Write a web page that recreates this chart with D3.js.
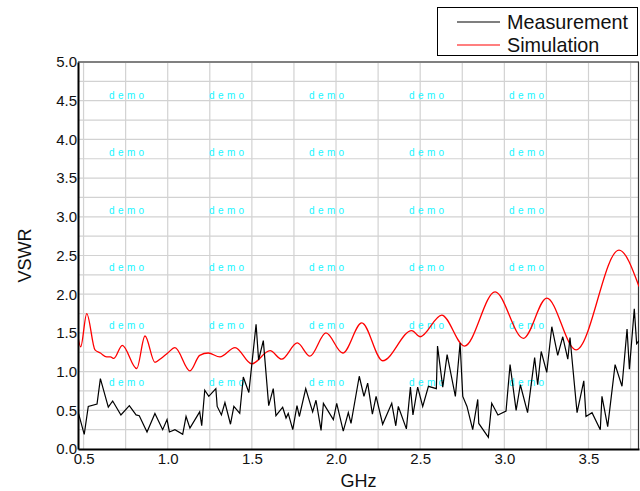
<!DOCTYPE html>
<html>
<head>
<meta charset="utf-8">
<script src="https://cdn.jsdelivr.net/npm/d3@7"></script>
<style>
body { margin: 0; background: #fff; }
text { font-family: "Liberation Sans", Arial, sans-serif; }
</style>
</head>
<body>
<script>
// measured VSWR (black)
const measFreq = [0.47, 0.504, 0.528, 0.58, 0.60, 0.647, 0.673, 0.722, 0.772, 0.812, 0.831, 0.877, 0.924, 0.97, 0.996,
    1.01, 1.043, 1.089, 1.109, 1.132, 1.19, 1.202, 1.22, 1.244, 1.286, 1.294, 1.319, 1.34, 1.373, 1.393, 1.428, 1.449, 1.482,
    1.525, 1.54, 1.568, 1.60, 1.627, 1.643, 1.683, 1.703, 1.716, 1.743, 1.768, 1.782, 1.82, 1.861, 1.881, 1.911, 1.925, 1.984,
    2.004, 2.043, 2.073, 2.089, 2.138, 2.166, 2.188, 2.216, 2.238, 2.277, 2.331, 2.355, 2.37, 2.418, 2.442, 2.457, 2.485,
    2.515, 2.549, 2.596, 2.603, 2.634, 2.66, 2.709, 2.737, 2.753, 2.778, 2.812, 2.842, 2.848, 2.905, 2.925, 2.962, 3.01,
    3.034, 3.07, 3.095, 3.138, 3.18, 3.198, 3.219, 3.252, 3.282, 3.317, 3.347, 3.377, 3.39, 3.432, 3.472, 3.485, 3.521,
    3.57, 3.58, 3.614, 3.658, 3.699, 3.729, 3.743, 3.772, 3.786, 3.80];
const measVswr = [0.46, 0.19, 0.55, 0.58, 0.91, 0.54, 0.62, 0.44, 0.56, 0.44, 0.43, 0.22, 0.46, 0.25, 0.38,
    0.22, 0.25, 0.19, 0.42, 0.27, 0.48, 0.30, 0.76, 0.68, 0.78, 0.55, 0.44, 0.60, 0.32, 0.55, 0.46, 0.93, 0.73,
    1.61, 1.15, 1.40, 0.56, 0.78, 0.43, 0.54, 0.40, 0.46, 0.25, 0.56, 0.42, 0.78, 0.48, 0.63, 0.24, 0.59, 0.38,
    0.59, 0.23, 0.47, 0.33, 0.94, 0.68, 0.85, 0.45, 0.68, 0.32, 0.59, 0.30, 0.55, 0.26, 0.80, 0.44, 0.80,
    0.55, 0.81, 0.78, 1.33, 0.80, 1.22, 0.68, 1.37, 0.68, 0.55, 0.25, 0.64, 0.33, 0.15, 0.59, 0.44, 0.49,
    1.09, 0.50, 0.83, 0.47, 1.18, 0.83, 1.26, 0.99, 1.58, 1.21, 1.45, 1.16, 1.44, 0.47, 0.88, 0.42, 0.47,
    0.25, 0.68, 0.29, 1.09, 0.81, 1.55, 1.03, 1.81, 1.36, 1.40];

// simulated VSWR (red)
const simFreq = [0.467, 0.483, 0.519, 0.568, 0.60, 0.637, 0.66, 0.68, 0.73, 0.816, 0.865, 0.924, 0.96, 1.0,
    1.043, 1.132, 1.19, 1.241, 1.31, 1.40, 1.499, 1.608, 1.677, 1.77, 1.845, 1.94, 2.04, 2.153, 2.277,
    2.45, 2.499, 2.628, 2.763, 2.945, 3.113, 3.252, 3.426, 3.681, 3.80];
const simVswr = [1.45, 1.32, 1.75, 1.28, 1.24, 1.19, 1.19, 1.17, 1.34, 1.04, 1.46, 1.12, 1.17, 1.24,
    1.31, 1.01, 1.21, 1.24, 1.19, 1.31, 1.10, 1.27, 1.16, 1.37, 1.20, 1.50, 1.24, 1.63, 1.14,
    1.53, 1.45, 1.73, 1.33, 2.03, 1.43, 1.95, 1.28, 2.57, 2.10];

const xTicks = [0.5, 1.0, 1.5, 2.0, 2.5, 3.0, 3.5];
const yTicks = [0.0, 0.5, 1.0, 1.5, 2.0, 2.5, 3.0, 3.5, 4.0, 4.5, 5.0];
const seriesNames = ["Measurement", "Simulation"];
const seriesColors = ["#000000", "#ff0000"];

const width = 640, height = 491;
const margin = {top: 62, right: 1, bottom: 42, left: 78};

const svg = d3.select("body").append("svg")
    .attr("width", width)
    .attr("height", height);

const x = d3.scaleLinear()
    .domain([0.467, 3.8])
    .range([margin.left, width - margin.right]);

const y = d3.scaleLinear()
    .domain([0, 5])
    .range([height - margin.bottom, margin.top]);

svg.append("clipPath").attr("id", "plot")
    .append("rect")
    .attr("x", margin.left).attr("y", margin.top)
    .attr("width", x.range()[1] - x.range()[0])
    .attr("height", y.range()[0] - y.range()[1]);

// grid every 0.25
let grid = svg.append("g").attr("stroke", "#d2d2d2").attr("stroke-width", 1.2);
grid.selectAll(".gx")
    .data(d3.range(0.5, 3.76, 0.25))
    .enter().append("line")
    .attr("x1", d => x(d)).attr("x2", d => x(d))
    .attr("y1", y(0)).attr("y2", y(5));
grid.selectAll(".gy")
    .data(d3.range(0.25, 5, 0.25))
    .enter().append("line")
    .attr("x1", x.range()[0]).attr("x2", x.range()[1])
    .attr("y1", d => y(d)).attr("y2", d => y(d));

// watermark
let marks = svg.append("g");
for (let i = 0; i < 5; i++) {
    for (let j = 0; j < 6; j++) {
        marks.append("text")
            .attr("x", 109 + i * 100)
            .attr("y", 95 + j * 57.5)
            .attr("dy", "0.35em")
            .attr("font-size", 10)
            .attr("letter-spacing", 0.3)
            .attr("fill", "#1af5ff")
            .text("d e m o");
    }
}

// frame
svg.append("line")
    .attr("x1", x.range()[0]).attr("x2", x.range()[1])
    .attr("y1", y(5)).attr("y2", y(5))
    .attr("stroke", "#808080").attr("stroke-width", 2);
svg.append("line")
    .attr("x1", x.range()[1] - 0.5).attr("x2", x.range()[1] - 0.5)
    .attr("y1", y(5)).attr("y2", y(0))
    .attr("stroke", "#333").attr("stroke-width", 1.2);

let line = d3.line()
    .x(d => x(d[0]))
    .y(d => y(d[1]));

svg.append("path")
    .datum(simFreq.map((f, i) => [f, simVswr[i]]))
    .attr("clip-path", "url(#plot)")
    .attr("fill", "none")
    .attr("stroke", seriesColors[1])
    .attr("stroke-width", 1.3)
    .attr("d", line.curve(d3.curveMonotoneX));

svg.append("path")
    .datum(measFreq.map((f, i) => [f, measVswr[i]]))
    .attr("clip-path", "url(#plot)")
    .attr("fill", "none")
    .attr("stroke", seriesColors[0])
    .attr("stroke-width", 1.2)
    .attr("stroke-linejoin", "miter")
    .attr("d", line.curve(d3.curveLinear));

// axes
let xAxis = svg.append("g")
    .attr("transform", "translate(0," + y(0) + ")")
    .call(d3.axisBottom(x).tickValues(xTicks).tickFormat(d3.format(".1f")).tickSize(0).tickPadding(4));
let yAxis = svg.append("g")
    .attr("transform", "translate(" + x.range()[0] + ",0)")
    .call(d3.axisLeft(y).tickValues(yTicks).tickFormat(d3.format(".1f")).tickSize(0).tickPadding(1));

[xAxis, yAxis].forEach(a => {
    a.selectAll("text")
        .attr("font-family", "'Liberation Sans', Arial, sans-serif")
        .attr("font-size", 15)
        .attr("fill", "#111");
    a.select(".domain").attr("stroke", "#000").attr("stroke-width", 2);
});

svg.append("text")
    .attr("x", (x.range()[0] + x.range()[1]) / 2)
    .attr("y", 487)
    .attr("text-anchor", "middle")
    .attr("font-size", 18)
    .attr("fill", "#111")
    .text("GHz");

svg.append("text")
    .attr("transform", "translate(31," + (y(2.5)) + ")rotate(-90)")
    .attr("text-anchor", "middle")
    .attr("font-size", 18)
    .attr("fill", "#111")
    .text("VSWR");

// legend
let legend = svg.append("g");
legend.append("rect")
    .attr("x", 437.5).attr("y", 7.5)
    .attr("width", 200).attr("height", 48)
    .attr("fill", "#fff")
    .attr("stroke", "#000");

seriesNames.forEach((name, i) => {
    let ly = 22 + i * 23;
    legend.append("line")
        .attr("x1", 457).attr("x2", 500)
        .attr("y1", ly).attr("y2", ly)
        .attr("stroke", seriesColors[i])
        .attr("stroke-width", 1.2);
    legend.append("text")
        .attr("x", 507).attr("y", ly)
        .attr("dy", "0.35em")
        .attr("font-size", 19.8)
        .attr("fill", "#111")
        .text(name);
});
</script>
</body>
</html>
